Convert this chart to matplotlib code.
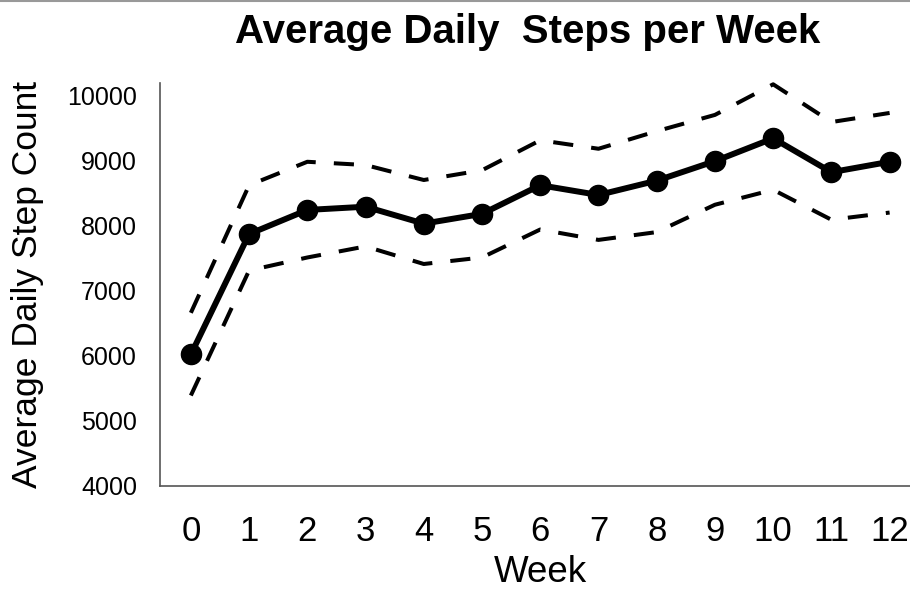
import matplotlib.pyplot as plt
from matplotlib.lines import Line2D

plt.rcParams['font.family'] = ['Liberation Sans', 'DejaVu Sans']

weeks = list(range(13))
mean_steps = [6020, 7870, 8240, 8290, 8030, 8180, 8620, 8470, 8690, 8990, 9340, 8820, 8980]
upper_ci = [6660, 8620, 8980, 8930, 8700, 8850, 9310, 9180, 9450, 9700, 10170, 9590, 9730]
lower_ci = [5390, 7310, 7510, 7680, 7410, 7510, 7940, 7780, 7900, 8320, 8550, 8090, 8200]

fig = plt.figure(figsize=(9.10, 5.92), dpi=100)
ax = fig.add_axes([160/910, 1-486/592, 750/910, (486-83)/592])

dash = (0, (5, 4.5))
ax.plot(weeks, upper_ci, color='black', lw=2.9, ls=dash, clip_on=False)
ax.plot(weeks, lower_ci, color='black', lw=2.9, ls=dash, clip_on=False)
ax.plot(weeks, mean_steps, color='black', lw=4.3, marker='o', ms=14.5, clip_on=False)

ax.set_xlim(-0.53, 12.35)
ax.set_ylim(4000, 10190)
ax.set_yticks(range(4000, 10001, 1000))
ax.set_xticks(weeks)
ax.tick_params(axis='both', length=0)
ax.tick_params(axis='x', labelsize=25, pad=21)
ax.tick_params(axis='y', labelsize=18, pad=16.5)
for s in ['top', 'right']:
    ax.spines[s].set_visible(False)
for s in ['left', 'bottom']:
    ax.spines[s].set_color('#555555')
    ax.spines[s].set_linewidth(1.2)

# axis titles and chart title placed in figure coords
fig.text(540/910, 1-573/592, 'Week', fontsize=26.5, ha='center', va='center')
fig.text(28/910, 1-284/592, 'Average Daily Step Count', fontsize=25.5,
         rotation=90, ha='center', va='center')
fig.text(528/910, 1-32/592, 'Average Daily  Steps per Week', fontsize=29,
         fontweight='bold', ha='center', va='center')

# thin grey border line along the top edge
fig.add_artist(Line2D([0, 1], [0.998, 0.998], transform=fig.transFigure,
                      color='#999999', lw=1.5))

fig.savefig('out.png', dpi=100)
